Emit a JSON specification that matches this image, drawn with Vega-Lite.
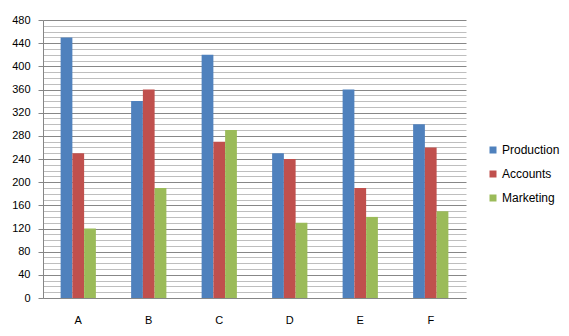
{
  "$schema": "https://vega.github.io/schema/vega-lite/v6.json",
  "width": 423,
  "height": 278,
  "autosize": {"type": "none"},
  "padding": {"left": 43, "top": 20, "right": 103, "bottom": 38},
  "background": "white",
  "config": {
    "view": {"stroke": null},
    "font": "Liberation Sans",
    "axis": {"labelFont": "Liberation Sans", "labelFontSize": 11, "labelColor": "#000000"}
  },
  "data": {
    "values": [
      {"cat": "A", "dept": "Production", "value": 450},
      {"cat": "A", "dept": "Accounts", "value": 250},
      {"cat": "A", "dept": "Marketing", "value": 120},
      {"cat": "B", "dept": "Production", "value": 340},
      {"cat": "B", "dept": "Accounts", "value": 360},
      {"cat": "B", "dept": "Marketing", "value": 190},
      {"cat": "C", "dept": "Production", "value": 420},
      {"cat": "C", "dept": "Accounts", "value": 270},
      {"cat": "C", "dept": "Marketing", "value": 290},
      {"cat": "D", "dept": "Production", "value": 250},
      {"cat": "D", "dept": "Accounts", "value": 240},
      {"cat": "D", "dept": "Marketing", "value": 130},
      {"cat": "E", "dept": "Production", "value": 360},
      {"cat": "E", "dept": "Accounts", "value": 190},
      {"cat": "E", "dept": "Marketing", "value": 140},
      {"cat": "F", "dept": "Production", "value": 300},
      {"cat": "F", "dept": "Accounts", "value": 260},
      {"cat": "F", "dept": "Marketing", "value": 150}
    ]
  },
  "mark": {"type": "bar"},
  "encoding": {
    "x": {
      "field": "cat", "type": "nominal",
      "scale": {"paddingInner": 0.5, "paddingOuter": 0.25},
      "axis": {"title": null, "labelAngle": 0, "ticks": false, "labelPadding": 16, "domainColor": "#868686", "domainWidth": 1, "grid": false}
    },
    "xOffset": {"field": "dept", "type": "nominal", "sort": ["Production", "Accounts", "Marketing"], "scale": {"paddingInner": 0, "paddingOuter": 0}},
    "y": {
      "field": "value", "type": "quantitative",
      "scale": {"domain": [0, 480], "nice": false},
      "axis": {
        "title": null,
        "values": [0,10,20,30,40,50,60,70,80,90,100,110,120,130,140,150,160,170,180,190,200,210,220,230,240,250,260,270,280,290,300,310,320,330,340,350,360,370,380,390,400,410,420,430,440,450,460,470,480],
        "labelExpr": "datum.value % 40 === 0 ? datum.label : ''",
        "grid": true,
        "gridColor": {"condition": {"test": "datum.value % 40 === 0", "value": "#878787"}, "value": "#BEBEBE"},
        "gridWidth": 1,
        "tickColor": {"condition": {"test": "datum.value % 40 === 0", "value": "#868686"}, "value": "transparent"},
        "tickSize": 5,
        "labelPadding": 8,
        "domainColor": "#868686",
        "labelFlush": false
      }
    },
    "color": {
      "field": "dept", "type": "nominal",
      "sort": ["Production", "Accounts", "Marketing"],
      "scale": {"domain": ["Production", "Accounts", "Marketing"], "range": ["#4F81BD", "#C0504D", "#9BBB59"]},
      "legend": {
        "title": null, "orient": "none", "legendX": 444, "legendY": 124,
        "symbolType": "square", "symbolSize": 49, "symbolStrokeWidth": 0,
        "labelFontSize": 12, "labelFont": "Liberation Sans", "labelColor": "#000000",
        "rowPadding": 12, "labelOffset": 3
      }
    }
  }
}
